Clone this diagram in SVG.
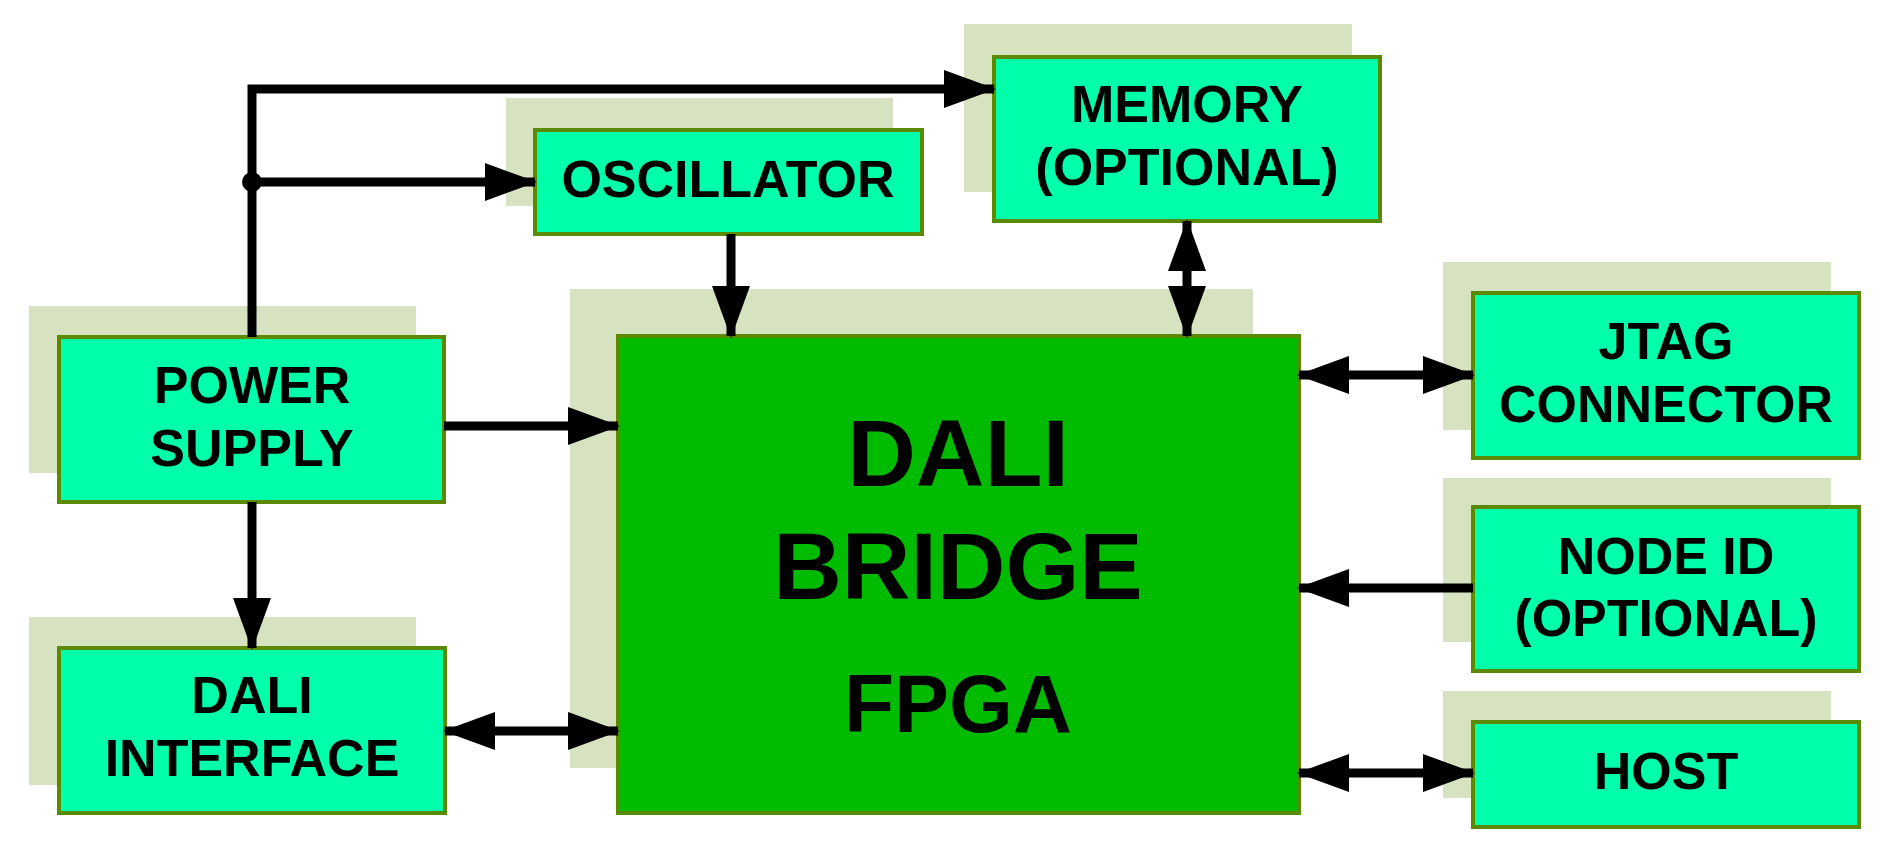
<svg xmlns="http://www.w3.org/2000/svg" width="1889" height="864" viewBox="0 0 1889 864">
<style>
.sh{fill:#d6e2c0}
.bx{fill:#00ffaa;stroke:#5a8a00;stroke-width:4}
.fp{fill:#00bb00;stroke:#5a8a00;stroke-width:4}
.t{font-family:"Liberation Sans",Arial,sans-serif;font-weight:bold;font-size:52px;fill:#000;text-anchor:middle}
.big{font-size:95px}
.c{fill:none;stroke:#000;stroke-width:9}
</style>
<defs>
<marker id="ah" markerUnits="userSpaceOnUse" markerWidth="52" markerHeight="38" refX="50" refY="19" orient="auto-start-reverse" viewBox="0 0 52 38">
<path d="M0,0 L52,19 L0,38 z" fill="#000"/>
</marker>
</defs>
<rect width="1889" height="864" fill="#fff"/>
<g id="memory">
<rect class="sh" x="964" y="24" width="388" height="168"/>
<rect class="bx" x="994" y="57" width="386" height="164"/>
<text class="t" x="1187" y="122">MEMORY</text>
<text class="t" x="1187" y="185">(OPTIONAL)</text>
</g>
<g id="oscillator">
<rect class="sh" x="506" y="98" width="387" height="108"/>
<rect class="bx" x="535" y="130" width="387" height="104"/>
<text class="t" x="728" y="197">OSCILLATOR</text>
</g>
<g id="power">
<rect class="sh" x="29" y="306" width="387" height="167"/>
<rect class="bx" x="59" y="337" width="385" height="165"/>
<text class="t" x="252" y="403">POWER</text>
<text class="t" x="252" y="466">SUPPLY</text>
</g>
<g id="dali-interface">
<rect class="sh" x="29" y="617" width="387" height="168"/>
<rect class="bx" x="59" y="648" width="386" height="165"/>
<text class="t" x="252" y="713">DALI</text>
<text class="t" x="252" y="776">INTERFACE</text>
</g>
<g id="fpga">
<rect class="sh" x="570" y="289" width="683" height="479"/>
<rect class="fp" x="618" y="336" width="681" height="477"/>
<text class="t big" x="958" y="486">DALI</text>
<text class="t big" x="958" y="599">BRIDGE</text>
<text class="t" x="958" y="732" style="font-size:82px">FPGA</text>
</g>
<g id="jtag">
<rect class="sh" x="1443" y="262" width="388" height="168"/>
<rect class="bx" x="1473" y="293" width="386" height="165"/>
<text class="t" x="1666" y="359">JTAG</text>
<text class="t" x="1666" y="422">CONNECTOR</text>
</g>
<g id="node-id">
<rect class="sh" x="1443" y="478" width="388" height="164"/>
<rect class="bx" x="1473" y="507" width="386" height="164"/>
<text class="t" x="1666" y="574">NODE ID</text>
<text class="t" x="1666" y="636">(OPTIONAL)</text>
</g>
<g id="host">
<rect class="sh" x="1443" y="691" width="388" height="107"/>
<rect class="bx" x="1473" y="722" width="386" height="105"/>
<text class="t" x="1666" y="789">HOST</text>
</g>
<g id="connectors">
<path class="c" d="M252,337 V89 H994" marker-end="url(#ah)"/>
<path class="c" d="M252,182 H535" marker-end="url(#ah)"/>
<circle cx="252" cy="182" r="10" fill="#000"/>
<path class="c" d="M731,234 V336" marker-end="url(#ah)"/>
<path class="c" d="M1187,221 V336" marker-start="url(#ah)" marker-end="url(#ah)"/>
<path class="c" d="M444,426 H618" marker-end="url(#ah)"/>
<path class="c" d="M252,502 V648" marker-end="url(#ah)"/>
<path class="c" d="M445,731 H618" marker-start="url(#ah)" marker-end="url(#ah)"/>
<path class="c" d="M1299,375 H1473" marker-start="url(#ah)" marker-end="url(#ah)"/>
<path class="c" d="M1473,588 H1299" marker-end="url(#ah)"/>
<path class="c" d="M1299,773 H1473" marker-start="url(#ah)" marker-end="url(#ah)"/>
</g>
</svg>
